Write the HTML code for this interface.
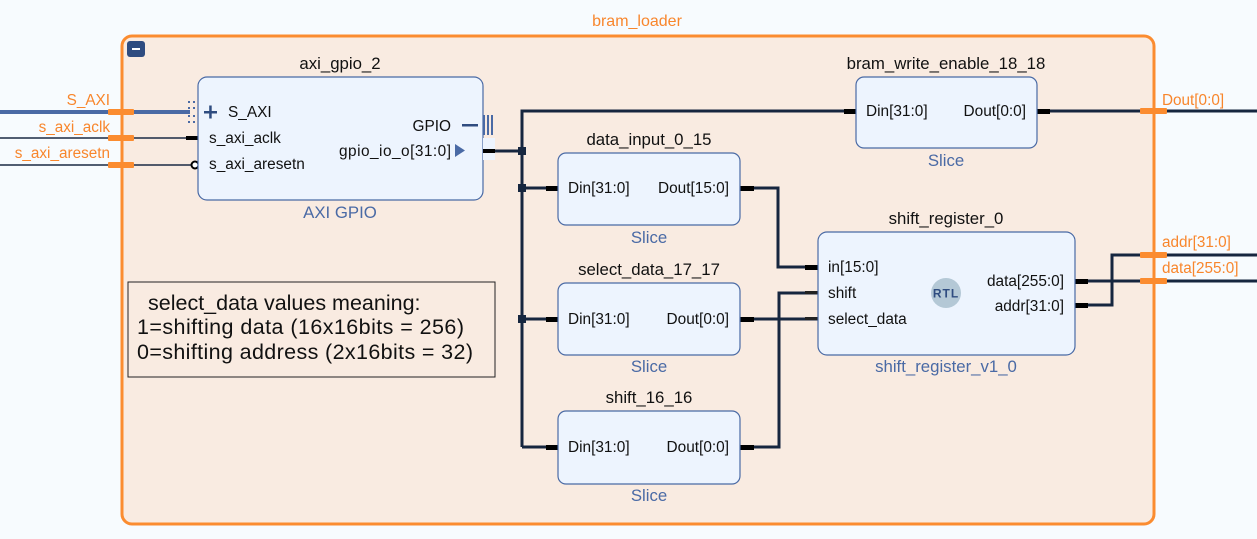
<!DOCTYPE html>
<html><head><style>
html,body{margin:0;padding:0;background:#f7fbfe;}
svg{display:block;}
text{font-family:"Liberation Sans",sans-serif;}
</style></head><body>
<svg width="1257" height="539" viewBox="0 0 1257 539" xmlns="http://www.w3.org/2000/svg">
<rect x="0" y="0" width="1257" height="539" fill="#f7fbfe"/>
<rect x="122" y="36" width="1032" height="488" rx="10" fill="#f9ebe1" stroke="#fb8c30" stroke-width="3"/>
<text x="637" y="26" font-size="16" fill="#f8862c" text-anchor="middle">bram_loader</text>
<rect x="127" y="41" width="18" height="16" rx="3" fill="#2f4c80"/>
<rect x="132" y="48" width="8" height="2" fill="#fff"/>

<line x1="0" y1="112" x2="190" y2="112" stroke="#4a6aa5" stroke-width="4"/>
<line x1="0" y1="138" x2="198" y2="138" stroke="#1a2a44" stroke-width="1.5"/>
<line x1="0" y1="165" x2="192" y2="165" stroke="#1a2a44" stroke-width="1.5"/>
<rect x="186" y="136" width="12" height="4" fill="#000"/>
<circle cx="195" cy="165" r="3.5" fill="#fff" stroke="#000" stroke-width="2"/>
<g fill="#4a6aa5"><rect x="188" y="101" width="2" height="2"/><rect x="193" y="101" width="2" height="2"/><rect x="188" y="107" width="2" height="2"/><rect x="193" y="107" width="2" height="2"/><rect x="188" y="115" width="2" height="2"/><rect x="193" y="115" width="2" height="2"/><rect x="188" y="121" width="2" height="2"/><rect x="193" y="121" width="2" height="2"/></g>
<g fill="#fb8c30"><rect x="108" y="109" width="26" height="6" rx="1"/><rect x="108" y="135" width="26" height="6" rx="1"/><rect x="108" y="162" width="26" height="6" rx="1"/></g>
<g font-size="15.3" fill="#f8862c" text-anchor="end"><text x="110" y="105">S_AXI</text><text x="110" y="132">s_axi_aclk</text><text x="110" y="158">s_axi_aresetn</text></g>

<g stroke="#16263f" stroke-width="3" fill="none">
<polyline points="483,151 522,151"/>
<polyline points="522,447 522,111 856,111"/>
<polyline points="522,188 558,188"/>
<polyline points="522,319 558,319"/>
<polyline points="522,447 558,447"/>
<polyline points="740,188 778,188 778,267 818,267"/>
<polyline points="740,319 818,319"/>
<polyline points="740,447 779,447 779,293 818,293"/>
<polyline points="1037,111 1257,111"/>
<polyline points="1075,281 1257,281"/>
<polyline points="1075,305 1112,305 1112,255 1257,255"/>
</g>
<g fill="#16263f"><rect x="518" y="147" width="8" height="8"/><rect x="518" y="184" width="8" height="8"/><rect x="518" y="315" width="8" height="8"/></g>
<g fill="#000">
<rect x="546" y="186" width="12" height="5"/><rect x="546" y="317" width="12" height="5"/><rect x="546" y="445" width="12" height="5"/>
<rect x="740" y="186" width="14" height="5"/><rect x="740" y="317" width="14" height="5"/><rect x="740" y="445" width="14" height="5"/>
<rect x="844" y="109" width="12" height="5"/><rect x="1037" y="109" width="13" height="5"/>
<rect x="805" y="265" width="13" height="5"/><rect x="805" y="291" width="13" height="3" fill="#222"/><rect x="805" y="317" width="13" height="3" fill="#222"/>
<rect x="1075" y="279" width="13" height="5"/><rect x="1075" y="303" width="13" height="5"/>
</g>
<g fill="#fb8c30"><rect x="1140" y="108" width="27" height="6" rx="1"/><rect x="1140" y="252" width="27" height="6" rx="1"/><rect x="1140" y="278" width="27" height="6" rx="1"/></g>
<g font-size="15.3" fill="#f8862c"><text x="1162" y="105">Dout[0:0]</text><text x="1162" y="247">addr[31:0]</text><text x="1162" y="273">data[255:0]</text></g>

<text x="340" y="69" font-size="16.8" fill="#111" text-anchor="middle">axi_gpio_2</text>
<rect x="198" y="77" width="285" height="123" rx="9" fill="#edf4fe" stroke="#4a6aa5" stroke-width="1.2"/>
<text x="340" y="218" font-size="16.8" fill="#4a6aa5" text-anchor="middle">AXI GPIO</text>
<rect x="204" y="111" width="13" height="2.5" fill="#2f4c80"/><rect x="209.2" y="105.5" width="2.5" height="13" fill="#2f4c80"/>
<g font-size="15.4" fill="#111"><text x="228" y="117">S_AXI</text><text x="209" y="143">s_axi_aclk</text><text x="209" y="169">s_axi_aresetn</text>
<text x="451" y="131" text-anchor="end">GPIO</text><text x="451" y="156" text-anchor="end" textLength="112">gpio_io_o[31:0]</text></g>
<rect x="462" y="124" width="16" height="2.5" fill="#2f4c80"/>
<g fill="#4a6aa5"><rect x="483" y="115" width="2" height="20"/><rect x="487" y="115" width="2" height="20"/><rect x="491" y="115" width="2" height="20"/></g>
<rect x="483" y="138" width="12" height="22" fill="#edf4fe"/>
<rect x="483" y="149" width="12" height="4" fill="#000"/>
<polygon points="455,144 455,157 465,150.5" fill="#4a6aa5"/>

<g font-size="16.8" fill="#111" text-anchor="middle">
<text x="649" y="145">data_input_0_15</text><text x="649" y="275">select_data_17_17</text><text x="649" y="403">shift_16_16</text><text x="946" y="69">bram_write_enable_18_18</text><text x="946" y="224">shift_register_0</text></g>
<g fill="#edf4fe" stroke="#4a6aa5" stroke-width="1.2">
<rect x="558" y="153" width="182" height="72" rx="8"/>
<rect x="558" y="283" width="182" height="72" rx="8"/>
<rect x="558" y="411" width="182" height="73" rx="8"/>
<rect x="856" y="77" width="181" height="71" rx="8"/>
<rect x="818" y="232" width="257" height="123" rx="9"/>
</g>
<g font-size="16.8" fill="#4a6aa5" text-anchor="middle">
<text x="649" y="243">Slice</text><text x="649" y="372">Slice</text><text x="649" y="501">Slice</text><text x="946" y="166">Slice</text><text x="946" y="372">shift_register_v1_0</text></g>
<g font-size="15.4" fill="#111">
<text x="568" y="193">Din[31:0]</text><text x="729" y="193" text-anchor="end">Dout[15:0]</text>
<text x="568" y="324">Din[31:0]</text><text x="729" y="324" text-anchor="end">Dout[0:0]</text>
<text x="568" y="452">Din[31:0]</text><text x="729" y="452" text-anchor="end">Dout[0:0]</text>
<text x="866" y="116">Din[31:0]</text><text x="1026" y="116" text-anchor="end">Dout[0:0]</text>
<text x="828" y="272">in[15:0]</text><text x="828" y="298">shift</text><text x="828" y="324">select_data</text>
<text x="1064" y="286" text-anchor="end">data[255:0]</text><text x="1064" y="311" text-anchor="end">addr[31:0]</text></g>
<circle cx="946" cy="293" r="15" fill="#b4c8d6"/>
<text x="946" y="297.5" font-size="12" font-weight="bold" fill="#2f4c80" text-anchor="middle" letter-spacing="1">RTL</text>

<rect x="128" y="282" width="367" height="95" fill="#f9ebe1" stroke="#222" stroke-width="1"/>
<g font-size="21.5" fill="#111"><text x="148" y="310">select_data values meaning:</text><text x="137" y="334" textLength="327">1=shifting data (16x16bits = 256)</text><text x="137" y="359" textLength="336">0=shifting address (2x16bits = 32)</text></g>
</svg>
</body></html>
